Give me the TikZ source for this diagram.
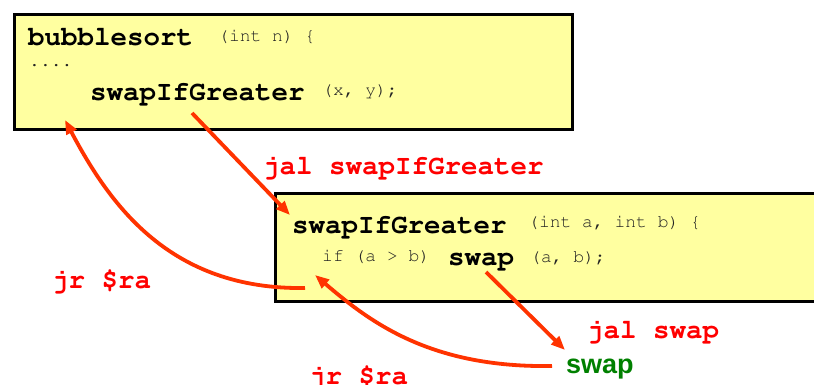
\documentclass[tikz,border=0pt]{standalone}
\usepackage[T1]{fontenc}
\usepackage{fontspec}
\setsansfont{Liberation Sans}
\newcommand\courierface{\fontencoding{T1}\fontfamily{pcr}\selectfont}
\usetikzlibrary{arrows.meta}
\definecolor{codebg}{RGB}{255,255,160}
\definecolor{flow}{RGB}{255,51,0}
\definecolor{lbl}{RGB}{255,0,0}
\definecolor{callee}{RGB}{0,128,0}
\definecolor{args}{RGB}{35,35,35}
\tikzset{
  codebox/.style={draw=black, line width=3pt, fill=codebg},
  fname/.style={anchor=base west, inner sep=0pt, font=\courierface\fontsize{27.5}{30}\selectfont\bfseries},
  argtext/.style={anchor=base west, inner sep=0pt, text=args, font=\courierface\fontsize{18}{20}\selectfont},
  instr/.style={anchor=base west, inner sep=0pt, text=lbl, font=\courierface\fontsize{27.5}{30}\selectfont\bfseries},
  target/.style={anchor=base west, inner sep=0pt, text=callee, font=\fontsize{27}{30}\selectfont\sffamily\bfseries},
  flowarrow/.style={draw=flow, line width=3.8pt, -{Triangle[length=14pt,width=11pt]}}
}
\begin{document}
\begin{tikzpicture}[x=1pt,y=-1pt]
\useasboundingbox (0,0) rectangle (814,385);
\clip (0,0) rectangle (814,385);

% caller: bubblesort
\path[codebox] (14.5,14.5) rectangle (572.5,129.5);
\node[fname] (bs) at (28,46) {bubblesort};
\node[argtext] (bsargs) at (218,42) {(int n) \{};
\node[argtext] (dots) at (29,67) {....};
\node[fname] (call1) at (90,101) {swapIfGreater};
\node[argtext] (call1args) at (322,96) {(x, y);};

% callee: swapIfGreater
\path[codebox] (275.5,193.5) rectangle (830,301);
\node[fname] (sig) at (292,233) {swapIfGreater};
\node[argtext] (sigargs) at (528,227) {(int a, int b) \{};
\node[argtext] (cond) at (322,261) {if (a > b)};
\node[fname] (call2) at (448,265) {swap};
\node[argtext] (call2args) at (530,262) {(a, b);};

% leaf: swap
\node[target] (leaf) at (566,373) {swap};

% instruction labels
\node[instr] (jal1) at (263,175) {jal swapIfGreater};
\node[instr] (jr1) at (52,288) {jr \$ra};
\node[instr] (jal2) at (587,338) {jal swap};
\node[instr] (jr2) at (309,384) {jr \$ra};

% connector ends
\coordinate (call1out) at (192,113);
\coordinate (sigin) at (290,215);
\coordinate (ret1from) at (305,288);
\coordinate (ret1to) at (65,120);
\coordinate (call2out) at (486,272);
\coordinate (leafin) at (565,350);
\coordinate (ret2from) at (552,366);
\coordinate (ret2to) at (315,275);

\draw[flowarrow] (call1out) -- (sigin);
\draw[flowarrow] (ret1from) .. controls (170,290) and (110,205) .. (ret1to);
\draw[flowarrow] (call2out) -- (leafin);
\draw[flowarrow] (ret2from) .. controls (430,368) and (370,322) .. (ret2to);
\end{tikzpicture}
\end{document}
